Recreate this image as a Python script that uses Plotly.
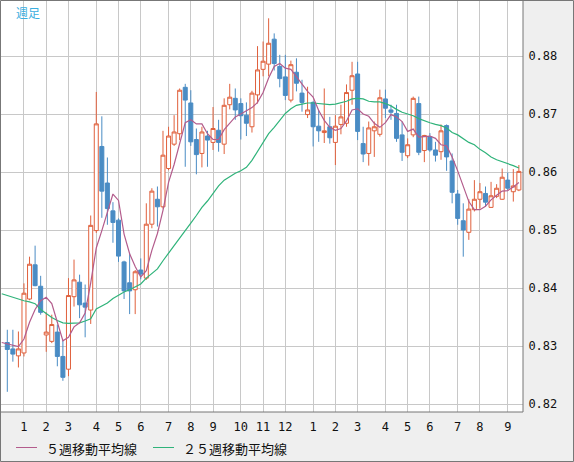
import pandas as pd
import plotly.graph_objects as go

# ---------------- data (weekly) ----------------
start_week = "2024-12-16"
n_weeks = 93

opens = [0.8306, 0.8295, 0.8283, 0.8288, 0.8381, 0.8440, 0.8403, 0.8319, 0.8308, 0.8324,
         0.8282, 0.8260, 0.8385, 0.8410, 0.8374, 0.8362, 0.8499, 0.8644, 0.8581, 0.8533,
         0.8517, 0.8445, 0.8409, 0.8397, 0.8431, 0.8417, 0.8510, 0.8553, 0.8540, 0.8606,
         0.8648, 0.8666, 0.8746, 0.8719, 0.8656, 0.8632, 0.8662, 0.8651, 0.8672, 0.8648,
         0.8716, 0.8727, 0.8718, 0.8698, 0.8678, 0.8733, 0.8777, 0.8786, 0.8829, 0.8782,
         0.8764, 0.8724, 0.8772, 0.8736, 0.8699, 0.8720, 0.8679, 0.8668, 0.8678, 0.8651,
         0.8682, 0.8684, 0.8741, 0.8769, 0.8649, 0.8632, 0.8671, 0.8665, 0.8726, 0.8707,
         0.8701, 0.8664, 0.8628, 0.8664, 0.8718, 0.8637, 0.8661, 0.8638, 0.8635, 0.8680,
         0.8619, 0.8562, 0.8516, 0.8496, 0.8535, 0.8553, 0.8563, 0.8539, 0.8558, 0.8553,
         0.8586, 0.8566, 0.8569]
highs = [0.8328, 0.8328, 0.8325, 0.8408, 0.8454, 0.8473, 0.8421, 0.8358, 0.8354, 0.8337,
         0.8310, 0.8417, 0.8449, 0.8423, 0.8406, 0.8525, 0.8738, 0.8696, 0.8625, 0.8548,
         0.8520, 0.8447, 0.8460, 0.8431, 0.8451, 0.8546, 0.8572, 0.8575, 0.8671, 0.8678,
         0.8698, 0.8744, 0.8752, 0.8741, 0.8675, 0.8678, 0.8671, 0.8712, 0.8690, 0.8727,
         0.8752, 0.8744, 0.8727, 0.8720, 0.8740, 0.8817, 0.8825, 0.8865, 0.8839, 0.8802,
         0.8802, 0.8792, 0.8796, 0.8759, 0.8747, 0.8722, 0.8707, 0.8744, 0.8695, 0.8698,
         0.8716, 0.8751, 0.8790, 0.8790, 0.8678, 0.8687, 0.8687, 0.8742, 0.8742, 0.8716,
         0.8716, 0.8687, 0.8658, 0.8730, 0.8730, 0.8664, 0.8667, 0.8652, 0.8682, 0.8682,
         0.8632, 0.8569, 0.8546, 0.8553, 0.8586, 0.8581, 0.8575, 0.8583, 0.8579, 0.8606,
         0.8599, 0.8605, 0.8612]
lows = [0.8221, 0.8273, 0.8263, 0.8282, 0.8379, 0.8403, 0.8354, 0.8290, 0.8305, 0.8265,
        0.8240, 0.8248, 0.8368, 0.8348, 0.8315, 0.8338, 0.8495, 0.8521, 0.8509, 0.8478,
        0.8445, 0.8381, 0.8355, 0.8355, 0.8415, 0.8414, 0.8503, 0.8506, 0.8537, 0.8603,
        0.8645, 0.8655, 0.8609, 0.8645, 0.8596, 0.8608, 0.8609, 0.8638, 0.8635, 0.8631,
        0.8708, 0.8690, 0.8656, 0.8662, 0.8668, 0.8718, 0.8765, 0.8765, 0.8775, 0.8746,
        0.8724, 0.8720, 0.8739, 0.8704, 0.8693, 0.8644, 0.8652, 0.8650, 0.8649, 0.8612,
        0.8665, 0.8678, 0.8716, 0.8655, 0.8617, 0.8611, 0.8626, 0.8661, 0.8693, 0.8690,
        0.8652, 0.8619, 0.8624, 0.8660, 0.8629, 0.8617, 0.8635, 0.8618, 0.8621, 0.8602,
        0.8546, 0.8509, 0.8454, 0.8483, 0.8532, 0.8537, 0.8540, 0.8538, 0.8555, 0.8552,
        0.8569, 0.8549, 0.8567]
closes = [0.8294, 0.8286, 0.8295, 0.8391, 0.8441, 0.8404, 0.8358, 0.8324, 0.8337, 0.8282,
          0.8246, 0.8387, 0.8414, 0.8371, 0.8367, 0.8508, 0.8683, 0.8567, 0.8537, 0.8513,
          0.8455, 0.8395, 0.8395, 0.8428, 0.8424, 0.8510, 0.8567, 0.8540, 0.8629, 0.8662,
          0.8669, 0.8741, 0.8724, 0.8652, 0.8630, 0.8669, 0.8655, 0.8675, 0.8651, 0.8715,
          0.8729, 0.8707, 0.8697, 0.8684, 0.8736, 0.8776, 0.8791, 0.8822, 0.8787, 0.8761,
          0.8732, 0.8785, 0.8753, 0.8720, 0.8707, 0.8678, 0.8671, 0.8671, 0.8659, 0.8679,
          0.8695, 0.8737, 0.8766, 0.8670, 0.8631, 0.8676, 0.8678, 0.8728, 0.8710, 0.8703,
          0.8658, 0.8634, 0.8647, 0.8727, 0.8634, 0.8663, 0.8638, 0.8629, 0.8671, 0.8626,
          0.8565, 0.8520, 0.8500, 0.8536, 0.8553, 0.8566, 0.8548, 0.8559, 0.8572, 0.8591,
          0.8572, 0.8576, 0.8601]

# moving averages as drawn in the picture (one extra leading week, 2024-12-09)
ma_start_week = "2024-12-09"
ma5 = [0.8306, 0.8304, 0.8301, 0.8299, 0.8312, 0.8341, 0.8363, 0.8378, 0.8384, 0.8373,
       0.8341, 0.8309, 0.8315, 0.8333, 0.8340, 0.8357, 0.8409, 0.8469, 0.8499, 0.8532,
       0.8562, 0.8551, 0.8493, 0.8459, 0.8437, 0.8419, 0.8430, 0.8465, 0.8494, 0.8534,
       0.8582, 0.8613, 0.8648, 0.8685, 0.8690, 0.8683, 0.8683, 0.8666, 0.8656, 0.8656,
       0.8673, 0.8685, 0.8695, 0.8700, 0.8706, 0.8711, 0.8720, 0.8737, 0.8762, 0.8782,
       0.8787, 0.8779, 0.8777, 0.8764, 0.8750, 0.8739, 0.8729, 0.8706, 0.8689, 0.8677,
       0.8672, 0.8675, 0.8688, 0.8707, 0.8709, 0.8700, 0.8696, 0.8684, 0.8677, 0.8685,
       0.8699, 0.8695, 0.8687, 0.8670, 0.8674, 0.8660, 0.8661, 0.8662, 0.8658, 0.8647,
       0.8645, 0.8626, 0.8602, 0.8576, 0.8549, 0.8535, 0.8535, 0.8541, 0.8552, 0.8560,
       0.8567, 0.8568, 0.8574, 0.8582]
ma25 = [0.8390, 0.8387, 0.8384, 0.8380, 0.8378, 0.8376, 0.8373, 0.8363, 0.8356, 0.8349,
        0.8344, 0.8340, 0.8339, 0.8339, 0.8340, 0.8343, 0.8347, 0.8364, 0.8369, 0.8374,
        0.8382, 0.8388, 0.8393, 0.8397, 0.8402, 0.8407, 0.8417, 0.8425, 0.8433, 0.8447,
        0.8459, 0.8473, 0.8486, 0.8498, 0.8512, 0.8525, 0.8539, 0.8550, 0.8563, 0.8576,
        0.8586, 0.8592, 0.8598, 0.8602, 0.8608, 0.8620, 0.8636, 0.8650, 0.8666, 0.8677,
        0.8689, 0.8701, 0.8709, 0.8715, 0.8717, 0.8719, 0.8719, 0.8718, 0.8716, 0.8716,
        0.8717, 0.8719, 0.8722, 0.8726, 0.8727, 0.8726, 0.8722, 0.8721, 0.8721, 0.8718,
        0.8714, 0.8708, 0.8703, 0.8700, 0.8697, 0.8692, 0.8688, 0.8685, 0.8682, 0.8680,
        0.8676, 0.8668, 0.8664, 0.8658, 0.8651, 0.8647, 0.8639, 0.8633, 0.8626, 0.8621,
        0.8618, 0.8615, 0.8611, 0.8607]

tick_dates = ["2025-01-06", "2025-02-03", "2025-03-03", "2025-04-07", "2025-05-05",
              "2025-06-02", "2025-07-07", "2025-08-04", "2025-09-01", "2025-10-06",
              "2025-11-03", "2025-12-01", "2026-01-05", "2026-02-02", "2026-03-02",
              "2026-04-06", "2026-05-04", "2026-06-01", "2026-07-06", "2026-08-03",
              "2026-09-07"]
tick_labels = ["1", "2", "3", "4", "5", "6", "7", "8", "9", "10", "11", "12",
               "1", "2", "3", "4", "5", "6", "7", "8", "9"]
y_ticks = [0.82, 0.83, 0.84, 0.85, 0.86, 0.87, 0.88]
y_labels = ["0.82", "0.83", "0.84", "0.85", "0.86", "0.87", "0.88"]
title_text = "週足"
legend_ma5 = "５週移動平均線"
legend_ma25 = "２５週移動平均線"

# ---------------- figure ----------------
weeks = pd.date_range(start_week, periods=n_weeks, freq="7D")
ma_weeks = pd.date_range(ma_start_week, periods=len(ma5), freq="7D")

RED = "#e0603c"
BLUE = "#4a8cc4"
MA5_C = "#b35c8c"
MA25_C = "#2fb37a"
GRID = "#c8c8c8"
FRAME = "#777777"

W, H = 574, 462
ML, MT, MR, MB = 0, 0, 51, 50
PW, PH = W - ML - MR, H - MT - MB


def px(xp):
    return (xp - ML) / PW


def py(yp):
    return (MT + PH - yp) / PH


fig = go.Figure()
fig.add_trace(go.Candlestick(
    x=weeks, open=opens, high=highs, low=lows, close=closes,
    increasing=dict(line=dict(color=RED, width=1), fillcolor="white"),
    decreasing=dict(line=dict(color=BLUE, width=1), fillcolor=BLUE),
    whiskerwidth=0, showlegend=False, hoverinfo="skip",
))
fig.add_trace(go.Scatter(x=ma_weeks, y=ma25, mode="lines",
                         line=dict(color=MA25_C, width=1.2), showlegend=False,
                         hoverinfo="skip"))
fig.add_trace(go.Scatter(x=ma_weeks, y=ma5, mode="lines",
                         line=dict(color=MA5_C, width=1.2), showlegend=False,
                         hoverinfo="skip"))

shapes = [
    # plot area right and bottom frame
    dict(type="line", xref="paper", yref="paper", x0=1, x1=1, y0=0, y1=1,
         line=dict(color=FRAME, width=1)),
    dict(type="line", xref="paper", yref="paper", x0=0, x1=1, y0=0, y1=0,
         line=dict(color=FRAME, width=1)),
    # outer frame
    dict(type="rect", xref="paper", yref="paper", x0=px(0.5), x1=px(W - 0.5),
         y0=py(H - 0.5), y1=py(0.5), line=dict(color=FRAME, width=1)),
    # legend samples
    dict(type="line", xref="paper", yref="paper", x0=px(16), x1=px(37),
         y0=py(447.5), y1=py(447.5), line=dict(color=MA5_C, width=1)),
    dict(type="line", xref="paper", yref="paper", x0=px(153), x1=px(174),
         y0=py(447.5), y1=py(447.5), line=dict(color=MA25_C, width=1)),
]

annotations = [
    dict(text=title_text, xref="paper", yref="paper", x=px(14), y=py(2),
         xanchor="left", yanchor="top", showarrow=False,
         font=dict(family="Noto Sans CJK JP", size=12, color="#3aaee0")),
    dict(text=legend_ma5, xref="paper", yref="paper", x=px(44), y=py(448),
         xanchor="left", yanchor="middle", showarrow=False,
         font=dict(family="Noto Sans CJK JP", size=13, color="#111111")),
    dict(text=legend_ma25, xref="paper", yref="paper", x=px(181), y=py(448),
         xanchor="left", yanchor="middle", showarrow=False,
         font=dict(family="Noto Sans CJK JP", size=13, color="#111111")),
]

fig.update_layout(
    width=W, height=H,
    margin=dict(l=ML, r=MR, t=MT, b=MB, pad=0),
    paper_bgcolor="#efefef", plot_bgcolor="white",
    showlegend=False,
    boxgap=0.28, boxgroupgap=0,
    shapes=shapes, annotations=annotations,
    xaxis=dict(
        type="date",
        range=["2024-12-06 19:26", "2026-09-26 05:00"],
        rangeslider=dict(visible=False),
        tickmode="array", tickvals=tick_dates, ticktext=tick_labels,
        showgrid=True, gridcolor=GRID, gridwidth=1,
        ticks="outside", ticklen=4, tickcolor="rgba(0,0,0,0)",
        tickfont=dict(family="DejaVu Sans Mono", size=12, color="#111111"),
        showline=False, zeroline=False, fixedrange=True,
    ),
    yaxis=dict(
        side="right",
        range=[0.818621, 0.889655],
        tickmode="array", tickvals=y_ticks, ticktext=y_labels,
        showgrid=True, gridcolor=GRID, gridwidth=1,
        ticks="outside", ticklen=2, tickcolor="rgba(0,0,0,0)",
        tickfont=dict(family="DejaVu Sans Mono", size=12, color="#111111"),
        showline=False, zeroline=False, fixedrange=True,
    ),
)

fig.write_html(
    "out.html",
    config={"displayModeBar": False},
    post_script="document.body.style.margin='0';document.body.style.padding='0';"
                "document.body.style.overflow='hidden';",
)
